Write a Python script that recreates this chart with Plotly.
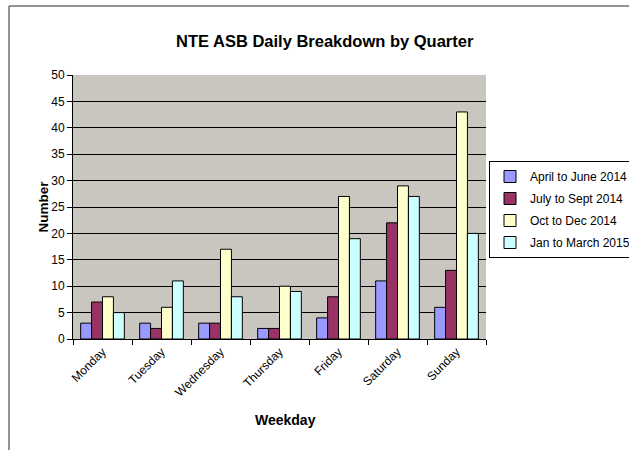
import plotly.graph_objects as go

days = ["Monday", "Tuesday", "Wednesday", "Thursday", "Friday", "Saturday", "Sunday"]
series_names = ["April to June 2014", "July to Sept 2014", "Oct to Dec 2014", "Jan to March 2015"]
apr_jun_2014 = [3, 3, 3, 2, 4, 11, 6]
jul_sep_2014 = [7, 2, 3, 2, 8, 22, 13]
oct_dec_2014 = [8, 6, 17, 10, 27, 29, 43]
jan_mar_2015 = [5, 11, 8, 9, 19, 27, 20]
colors = ["#9999FF", "#993366", "#FFFFCC", "#CCFFFF"]
y_ticks = [0, 5, 10, 15, 20, 25, 30, 35, 40, 45, 50]

FONT = "Liberation Sans, Arial, sans-serif"

W, H = 629, 450
s_left, s_right, s_top, s_bottom = 73, 486, 75, 339
L, T = s_left, s_top
R, B = W - s_right, H - s_bottom
pw, ph = W - L - R, H - T - B

def px_x(s):
    return (s - L) / pw

def px_y(s):
    return (H - B - s) / ph

fig = go.Figure()
for name, vals, col in zip(series_names, [apr_jun_2014, jul_sep_2014, oct_dec_2014, jan_mar_2015], colors):
    fig.add_trace(go.Bar(
        x=days, y=vals, name=name,
        marker=dict(color=col, line=dict(color="#000000", width=1)),
        legendgroup=name,
    ))

border = dict(color="#6E6E6E", width=1.5)

fig.update_layout(
    width=W, height=H,
    margin=dict(l=L, r=R, t=T, b=B, autoexpand=False),
    paper_bgcolor="#FFFFFF",
    plot_bgcolor="#C9C6C0",
    barmode="group",
    bargap=0.26,
    bargroupgap=0,
    font=dict(family=FONT, size=12, color="#000000"),
    showlegend=True,
    legend=dict(
        x=px_x(489), y=px_y(161), xanchor="left", yanchor="top",
        bgcolor="#FFFFFF", bordercolor="#000000", borderwidth=1,
        font=dict(family=FONT, size=12, color="#000000"),
        tracegroupgap=3,
        itemwidth=30,
    ),
    xaxis=dict(
        showgrid=False, ticks="outside", tickson="boundaries", ticklen=5,
        tickcolor="#000000", tickangle=-45, showline=True, linecolor="#000000",
        linewidth=1, tickfont=dict(family=FONT, size=12),
    ),
    yaxis=dict(
        range=[0, 50], tickvals=y_ticks, showgrid=True, gridcolor="#000000",
        gridwidth=1.4, ticks="outside", ticklen=5, tickcolor="#000000",
        showline=True, linecolor="#000000", linewidth=1, zeroline=False,
        tickfont=dict(family=FONT, size=12),
    ),
    annotations=[
        dict(text="<b>NTE ASB Daily Breakdown by Quarter</b>", x=px_x(325), y=px_y(30),
             xref="paper", yref="paper", showarrow=False, font=dict(family=FONT, size=16.5)),
        dict(text="<b>Weekday</b>", x=px_x(285), y=px_y(430),
             xref="paper", yref="paper", showarrow=False, font=dict(family=FONT, size=14)),
        dict(text="<b>Number</b>", x=px_x(33), y=px_y(207), textangle=-90,
             xref="paper", yref="paper", showarrow=False, font=dict(family=FONT, size=13.5)),
    ],
    shapes=[
        dict(type="line", xref="paper", yref="paper",
             x0=px_x(9), x1=px_x(629), y0=px_y(6), y1=px_y(6), line=border),
        dict(type="line", xref="paper", yref="paper",
             x0=px_x(9), x1=px_x(9), y0=px_y(6), y1=px_y(450), line=border),
    ],
)

fig.write_html(
    "out.html",
    config={"displayModeBar": False},
    post_script="document.body.style.margin='0';document.body.style.overflow='hidden';",
)
